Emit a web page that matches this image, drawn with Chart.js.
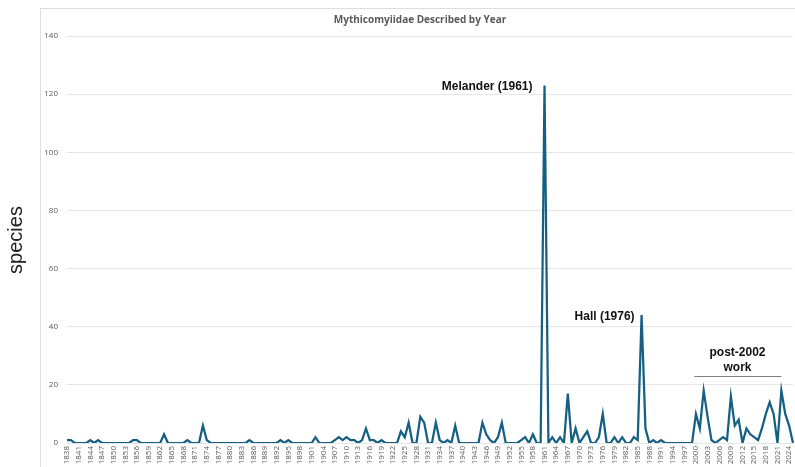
<!DOCTYPE html>
<html>
<head>
<meta charset="utf-8">
<script src="https://cdn.jsdelivr.net/npm/chart.js@4.4.1/dist/chart.umd.min.js"></script>
<style>
  html, body { margin: 0; padding: 0; background: #fff; }
  #wrap { position: relative; width: 795px; height: 467px; }
</style>
</head>
<body>
<div id="wrap"><canvas id="speciesChart" width="795" height="467"></canvas></div>
<script>
// Yillar (kategoriyalar)
const firstYear = 1838;
const lastYear = 2025;
const years = [];
for (let y = firstYear; y <= lastYear; y++) years.push(String(y));

// Har yili tasvirlangan turlar soni
const speciesCounts = [
  1, 1,
  0, 0, 0, 0, 1, 0, 1, 0, 0, 0,
  0, 0, 0, 0, 0, 1, 1, 0, 0, 0,
  0, 0, 0, 3, 0, 0, 0, 0, 0, 1,
  0, 0, 0, 6, 1, 0, 0, 0, 0, 0,
  0, 0, 0, 0, 0, 1, 0, 0, 0, 0,
  0, 0, 0, 1, 0, 1, 0, 0, 0, 0,
  0, 0, 2, 0, 0, 0, 0, 1, 2, 1,
  2, 1, 1, 0, 1, 5, 1, 1, 0, 1,
  0, 0, 0, 0, 4, 2, 7, 0, 0, 9,
  7, 0, 0, 7, 1, 0, 1, 0, 6, 0,
  0, 0, 0, 0, 0, 7, 3, 1, 0, 2,
  7, 0, 0, 0, 0, 1, 2, 0, 3, 0,
  0, 123, 0, 2, 0, 2, 0, 17, 0, 5,
  0, 2, 4, 0, 0, 2, 10, 0, 0, 2,
  0, 2, 0, 0, 2, 1, 44, 5, 0, 1,
  0, 1, 0, 0, 0, 0, 0, 0, 0, 0,
  10, 5, 18, 9, 1, 0, 1, 2, 1, 16,
  6, 8, 0, 5, 3, 2, 1, 5, 10, 14,
  10, 0, 18, 10, 6, 0
];

// O'q belgilari
const yTicks = [0, 20, 40, 60, 80, 100, 120, 140];
const xLabelEvery = 3;

const titleText = 'Mythicomyiidae Described by Year';
const yTitleText = 'species';

// Izohlar (yil/qiymat bo'yicha joylashadi)
const notes = [
  { lines: ['Melander (1961)'], year: 1961, value: 122.6, align: 'right', dx: -12 },
  { lines: ['Hall (1976)'], year: 1986, value: 43.3, align: 'right', dx: -7 },
  { lines: ['post-2002', 'work'], year: 2010.7, value: 31, align: 'center', dx: 0 }
];

const gray = '#595959';

const decorPlugin = {
  id: 'decor',
  beforeDraw(chart) {
    const c = chart.ctx;
    c.save();
    c.strokeStyle = '#dedede';
    c.lineWidth = 1;
    c.strokeRect(40.5, 8.5, 800, 500);
    c.restore();
  },
  afterDraw(chart) {
    const c = chart.ctx;
    const xs = chart.scales.x, ys = chart.scales.y;
    const xAt = yr => {
      const i = yr - firstYear;
      const a = xs.getPixelForValue(Math.floor(i));
      const b = xs.getPixelForValue(Math.floor(i) + 1);
      return a + (b - a) * (i - Math.floor(i));
    };
    c.save();
    // sarlavha
    c.fillStyle = gray;
    c.font = 'bold 10px "Open Sans", sans-serif';
    c.textAlign = 'center';
    c.textBaseline = 'middle';
    c.fillText(titleText, 420, 20);

    // y o'q nomi
    c.save();
    c.translate(16, 240);
    c.rotate(-Math.PI / 2);
    c.fillStyle = '#222';
    c.font = '20px "Liberation Sans", sans-serif';
    c.fillText(yTitleText, 0, 0);
    c.restore();

    // izohlar
    c.fillStyle = '#111';
    c.font = 'bold 12px "Liberation Sans", sans-serif';
    notes.forEach(n => {
      c.textAlign = n.align;
      const x = xAt(n.year) + n.dx;
      const y = ys.getPixelForValue(n.value);
      n.lines.forEach((t, k) => c.fillText(t, x, y + k * 15));
    });

    // post-2002 ostidagi chiziq
    c.strokeStyle = '#7f7f7f';
    c.lineWidth = 1;
    c.beginPath();
    const ly = Math.round(ys.getPixelForValue(22.9)) + 0.5;
    c.moveTo(xAt(1999.6), ly);
    c.lineTo(xAt(2022), ly);
    c.stroke();
    c.restore();
  }
};

new Chart(document.getElementById('speciesChart'), {
  type: 'line',
  data: {
    labels: years,
    datasets: [{
      data: speciesCounts,
      borderColor: '#156082',
      borderWidth: 2.25,
      pointRadius: 0,
      tension: 0,
      fill: false
    }]
  },
  options: {
    responsive: false,
    animation: false,
    devicePixelRatio: 1,
    layout: { padding: { left: 40, top: 36, right: 2, bottom: 0 } },
    plugins: {
      legend: { display: false },
      tooltip: { enabled: false }
    },
    scales: {
      x: {
        offset: false,
        grid: { display: false, drawTicks: false },
        border: { display: false },
        ticks: {
          autoSkip: false,
          maxRotation: 90,
          minRotation: 90,
          padding: 3,
          color: gray,
          font: { family: '"Open Sans", sans-serif', size: 8 },
          callback: (v, i) => (i % xLabelEvery === 0 ? years[i] : null)
        },
        afterFit: s => { s.height = 24; s.paddingRight = 0; s.paddingLeft = 0; }
      },
      y: {
        min: yTicks[0],
        max: yTicks[yTicks.length - 1],
        afterBuildTicks: s => { s.ticks = yTicks.map(v => ({ value: v })); },
        grid: { color: '#e6e6e6', lineWidth: 1, drawTicks: false },
        border: { display: false },
        ticks: {
          padding: 9,
          color: gray,
          font: { family: '"Open Sans", sans-serif', size: 8 }
        },
        afterFit: s => { s.width = 27; }
      }
    }
  },
  plugins: [decorPlugin]
});
</script>
</body>
</html>
